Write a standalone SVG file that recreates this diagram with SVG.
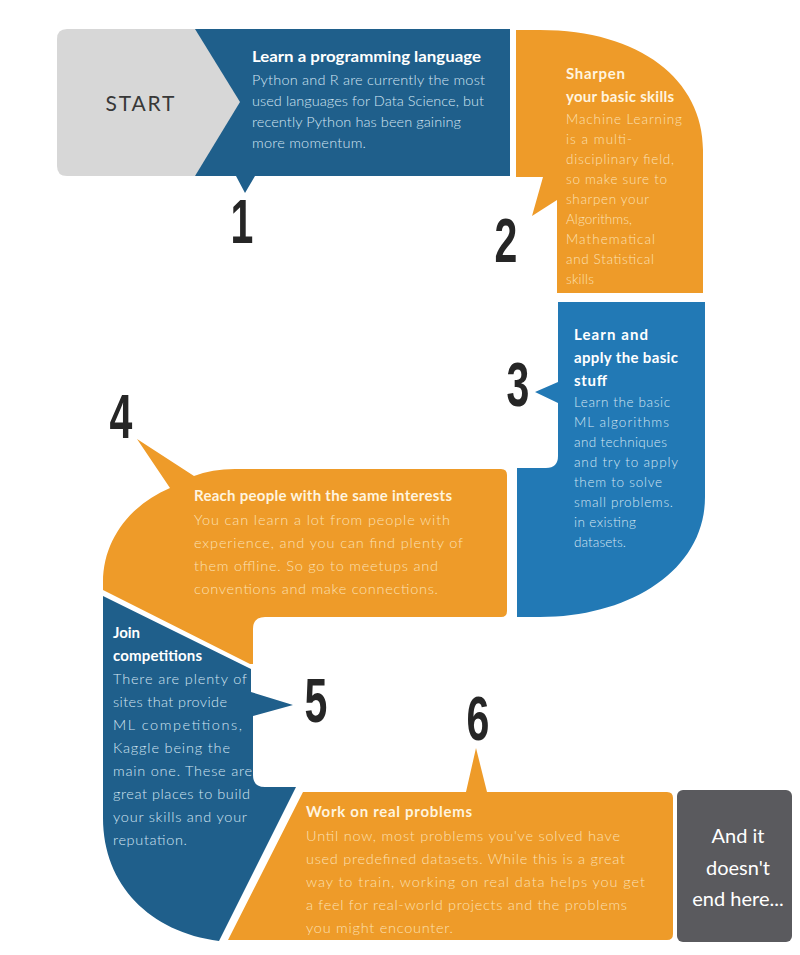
<svg xmlns="http://www.w3.org/2000/svg" width="800" height="955" viewBox="0 0 800 955">
<style>
.t{font-family:Lato,"Open Sans","Liberation Sans",sans-serif;font-weight:700;font-size:15px}
.b{font-family:Lato,"Open Sans","Liberation Sans",sans-serif;font-weight:300;font-size:14.5px}
.bs{font-family:Lato,"Open Sans","Liberation Sans",sans-serif;font-weight:300;font-size:13.5px}
.onb{fill:#ffffff}
.onbb{fill:#d3e5f2}
.ono{fill:#fff4df}
.onob{fill:#fbe0b4}
.num{font-family:"Liberation Sans",Arial,sans-serif;font-weight:700;font-size:57px;fill:#262626;text-anchor:middle}
.dblue{fill:#1f5f8b}
.lblue{fill:#2279b5}
.orange{fill:#ee9b29}
</style>
<rect width="800" height="955" fill="#ffffff"/>

<g id="step1">
<path class="dblue" d="M190,29 H510 V176 H255 L245,193 L236,176 H190 Z"/>
<text class="t onb" x="252" y="62" textLength="229" lengthAdjust="spacingAndGlyphs">Learn a programming language</text>
<text class="b onbb" x="252" y="85" textLength="233">Python and R are currently the most</text>
<text class="b onbb" x="252" y="106" textLength="232">used languages for Data Science, but</text>
<text class="b onbb" x="252" y="127" textLength="209">recently Python has been gaining</text>
<text class="b onbb" x="252" y="148" textLength="114">more momentum.</text>
</g>

<g id="start">
<path d="M67,29 H195 L240,102 L195,176 H67 Q57,176 57,166 V39 Q57,29 67,29 Z" fill="#d7d7d7"/>
<text x="140" y="111" text-anchor="middle" font-family="Lato,'Open Sans','Liberation Sans',sans-serif" font-size="21" fill="#383838" textLength="69">START</text>
</g>

<g id="step2">
<path class="orange" d="M516,30 H540 C640,30 703,80 703,150 V293 H557 V200 L532,216 L543,177 H516 Z"/>
<text class="t ono" x="566" y="79" textLength="59">Sharpen</text>
<text class="t ono" x="566" y="102" textLength="108">your basic skills</text>
<text class="bs onob" x="566" y="124" textLength="116">Machine Learning</text>
<text class="bs onob" x="566" y="144" textLength="66">is a multi-</text>
<text class="bs onob" x="566" y="164" textLength="108">disciplinary field,</text>
<text class="bs onob" x="566" y="184" textLength="101">so make sure to</text>
<text class="bs onob" x="566" y="204" textLength="83">sharpen your</text>
<text class="bs onob" x="566" y="224" textLength="66">Algorithms,</text>
<text class="bs onob" x="566" y="244" textLength="89">Mathematical</text>
<text class="bs onob" x="566" y="264" textLength="88">and Statistical</text>
<text class="bs onob" x="566" y="284" textLength="28">skills</text>
</g>

<g id="step3">
<path class="lblue" d="M558,302 H705 V497 C705,570 630,617 540,617 H517 V468 H546 Q558,468 558,456 V403 L535,392 L558,382 Z"/>
<text class="t onb" x="574" y="340" textLength="74">Learn and</text>
<text class="t onb" x="574" y="363" textLength="104">apply the basic</text>
<text class="t onb" x="574" y="386" textLength="33">stuff</text>
<text class="bs onbb" x="574" y="407" textLength="96">Learn the basic</text>
<text class="bs onbb" x="574" y="427" textLength="95">ML algorithms</text>
<text class="bs onbb" x="574" y="447" textLength="93">and techniques</text>
<text class="bs onbb" x="574" y="467" textLength="104">and try to apply</text>
<text class="bs onbb" x="574" y="487" textLength="88">them to solve</text>
<text class="bs onbb" x="574" y="507" textLength="99">small problems.</text>
<text class="bs onbb" x="574" y="527" textLength="62">in existing</text>
<text class="bs onbb" x="574" y="547" textLength="52">datasets.</text>
</g>

<g id="step4">
<path class="orange" d="M103,590 V582 C103,540 130,505 170,488 L137,439 L194,476 Q212,469 235,469 H501 Q507,469 507,475 V611 Q507,617 501,617 H265 Q253,617 253,629 V664 L250,664 Z"/>
<text class="t ono" x="194" y="501" textLength="258">Reach people with the same interests</text>
<text class="b onob" x="194" y="525" textLength="256">You can learn a lot from people with</text>
<text class="b onob" x="194" y="548" textLength="269">experience, and you can find plenty of</text>
<text class="b onob" x="194" y="571" textLength="244">them offline. So go to meetups and</text>
<text class="b onob" x="194" y="594" textLength="244">conventions and make connections.</text>
</g>

<g id="step5">
<path class="dblue" d="M103,596 L251,669 V692 L293,705 L253,716 V775 Q253,787 265,787 H296 L219,941 C150,932 103,885 103,818 Z"/>
<text class="t onb" x="113" y="638" textLength="27">Join</text>
<text class="t onb" x="113" y="661" textLength="89">competitions</text>
<text class="b onbb" x="113" y="684" textLength="134">There are plenty of</text>
<text class="b onbb" x="113" y="707" textLength="114">sites that provide</text>
<text class="b onbb" x="113" y="730" textLength="129">ML competitions,</text>
<text class="b onbb" x="113" y="753" textLength="117">Kaggle being the</text>
<text class="b onbb" x="113" y="776" textLength="139">main one. These are</text>
<text class="b onbb" x="113" y="799" textLength="137">great places to build</text>
<text class="b onbb" x="113" y="822" textLength="134">your skills and your</text>
<text class="b onbb" x="113" y="845" textLength="74">reputation.</text>
</g>

<g id="step6">
<path class="orange" d="M303,792 H466 L476,748 L487,792 H667 Q673,792 673,798 V934 Q673,940 667,940 H228 Z"/>
<text class="t ono" x="306" y="817" textLength="166">Work on real problems</text>
<text class="b onob" x="306" y="841" textLength="314">Until now, most problems you've solved have</text>
<text class="b onob" x="306" y="864" textLength="319">used predefined datasets. While this is a great</text>
<text class="b onob" x="306" y="887" textLength="339">way to train, working on real data helps you get</text>
<text class="b onob" x="306" y="910" textLength="321">a feel for real-world projects and the problems</text>
<text class="b onob" x="306" y="933" textLength="147">you might encounter.</text>
</g>

<g id="end">
<rect x="677" y="790" width="115" height="152" rx="6" fill="#5a5a5e"/>
<g font-family="Lato,'Open Sans','Liberation Sans',sans-serif" font-size="20" fill="#ffffff" text-anchor="middle">
<text x="738" y="843">And it</text>
<text x="738" y="875">doesn't</text>
<text x="738" y="906">end here...</text>
</g>
</g>

<g id="step-numbers">
<text class="num" transform="translate(242,243) scale(0.72,1.1)">1</text>
<text class="num" transform="translate(506,262) scale(0.72,1.1)">2</text>
<text class="num" transform="translate(518,406) scale(0.72,1.1)">3</text>
<text class="num" transform="translate(121,438) scale(0.72,1.1)">4</text>
<text class="num" transform="translate(316,722) scale(0.72,1.1)">5</text>
<text class="num" transform="translate(478,740) scale(0.72,1.1)">6</text>
</g>

<g id="connectors"></g>
</svg>
